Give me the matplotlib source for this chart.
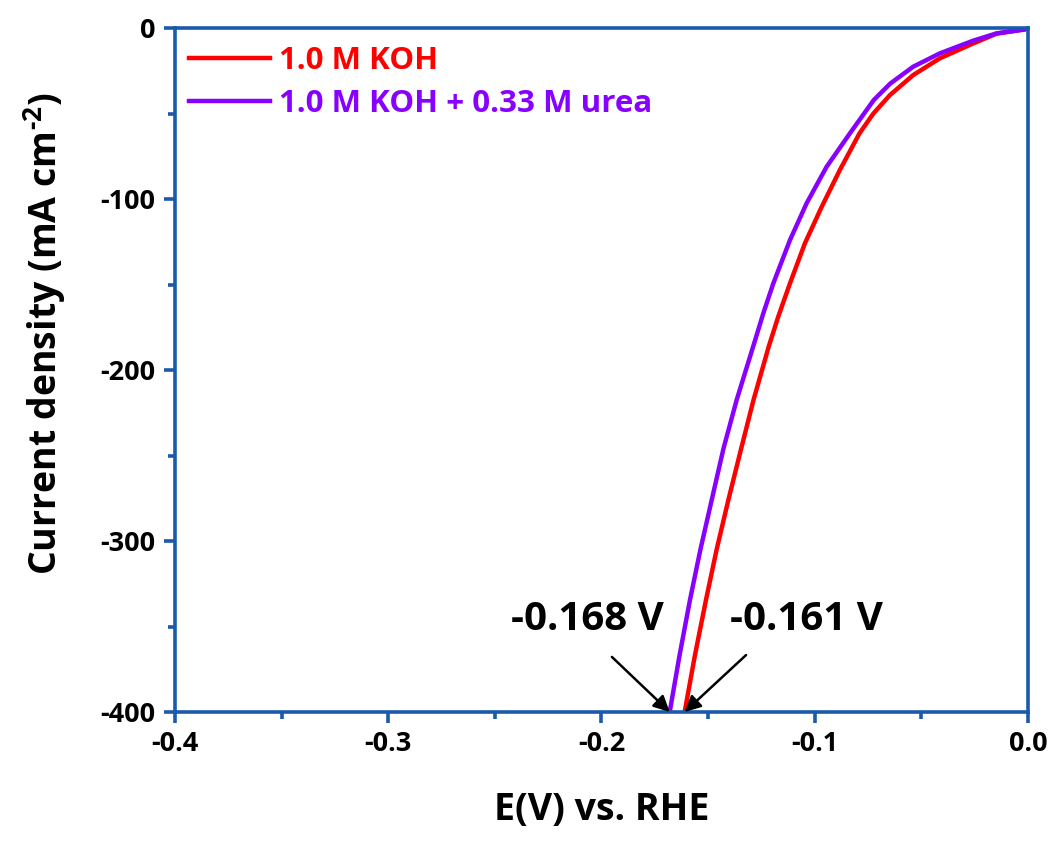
import matplotlib
matplotlib.use("Agg")
import matplotlib.pyplot as plt
import numpy as np

# Data (E in V vs RHE, j in mA cm^-2)
koh_E = [0.0, -0.0014, -0.0147, -0.0257, -0.0413, -0.0538, -0.0647, -0.0725, -0.0790,
         -0.0882, -0.0967, -0.1046, -0.1116, -0.1171, -0.1215, -0.1287, -0.1345, -0.1405,
         -0.146, -0.151, -0.1562, -0.161]
koh_j = [0.0, -0.8, -3.3, -9, -17.7, -27.5, -39.2, -50, -61.6,
         -83, -104.5, -125.9, -149.3, -168.8, -186, -217.5, -246, -276,
         -305, -334.5, -367, -400]
urea_E = [0.0, -0.0014, -0.0147, -0.0257, -0.0413, -0.0538, -0.0645, -0.0723, -0.0835,
          -0.0944, -0.1038, -0.1116, -0.1194, -0.1241, -0.1288, -0.1366, -0.1428, -0.1483,
          -0.1536, -0.1585, -0.1634, -0.168]
urea_j = [0.0, -0.8, -3.1, -7.4, -14.8, -22.6, -32.4, -42.1, -61.6,
          -81.1, -102.5, -124, -149.3, -166.8, -186, -217.5, -246, -276,
          -305, -334.5, -367, -400]

series_labels = ["1.0 M KOH", "1.0 M KOH + 0.33 M urea"]
series_colors = ["#ff0000", "#8800ff"]
annot_values = [-0.168, -0.161]
annot_texts = ["-0.168 V", "-0.161 V"]

x_ticks = [-0.4, -0.3, -0.2, -0.1, 0.0]
y_ticks = [-400, -300, -200, -100, 0]

plt.rcParams['font.family'] = ['Open Sans', 'DejaVu Sans']
plt.rcParams['font.weight'] = 'bold'
plt.rcParams['mathtext.fontset'] = 'custom'
plt.rcParams['mathtext.rm'] = 'Open Sans:bold'
plt.rcParams['mathtext.bf'] = 'Open Sans:bold'
plt.rcParams['mathtext.default'] = 'bf'

spine_c = "#1a5aab"
fig = plt.figure(figsize=(10.54, 8.44), dpi=100)
ax = fig.add_axes([0.166, 0.1564, 0.8093, 0.8104])

ax.plot(koh_E, koh_j, color=series_colors[0], lw=3.2, label=series_labels[0],
        solid_joinstyle='round')
ax.plot(urea_E, urea_j, color=series_colors[1], lw=3.2, label=series_labels[1],
        solid_joinstyle='round')

ax.set_xlim(-0.4, 0.0)
ax.set_ylim(-400, 0)
ax.set_xticks(x_ticks)
ax.set_xticklabels([f"{v:.1f}" for v in x_ticks])
ax.set_yticks(y_ticks)
ax.set_yticklabels([f"{v:d}" for v in y_ticks])
ax.set_xticks(np.arange(-0.35, 0.0, 0.1), minor=True)
ax.set_yticks(np.arange(-350, 0, 100), minor=True)

for s in ax.spines.values():
    s.set_color(spine_c)
    s.set_linewidth(2.6)
ax.tick_params(which='major', direction='out', length=8, width=2.6, color=spine_c,
               labelsize=19.5, pad=6)
ax.tick_params(which='minor', direction='out', length=5, width=2.6, color=spine_c)
ax.tick_params(top=False, right=False)
for lab in ax.get_xticklabels() + ax.get_yticklabels():
    lab.set_fontweight('bold')

ax.set_xlabel("E(V) vs. RHE", fontsize=27, fontweight='bold', labelpad=24)
ax.set_ylabel(r"Current density (mA cm$^{\text{-2}}$)", fontsize=27, fontweight='bold')
ax.yaxis.set_label_coords(-0.125, 0.553)

leg = ax.legend(loc='upper left', bbox_to_anchor=(-0.017, 1.015), frameon=False,
                handlelength=2.6, handletextpad=0.3, labelspacing=0.42,
                labelcolor='linecolor', prop={'weight': 'bold', 'size': 22.5})

# Annotations: labels and arrows
label_pos = [(-0.2068, -346), (-0.1041, -346)]
arrow_start = [(-0.1951, -367.8), (-0.1322, -366.7)]
for val, txt, lp, st in zip(annot_values, annot_texts, label_pos, arrow_start):
    ax.text(lp[0], lp[1], txt, ha='center', va='center', fontsize=29, fontweight='bold')
    ax.annotate('', xy=(val, -400), xytext=st,
                arrowprops=dict(arrowstyle='-|>', color='black', lw=1.8,
                                mutation_scale=24, shrinkA=0, shrinkB=0))

fig.savefig("out.png", dpi=100)
